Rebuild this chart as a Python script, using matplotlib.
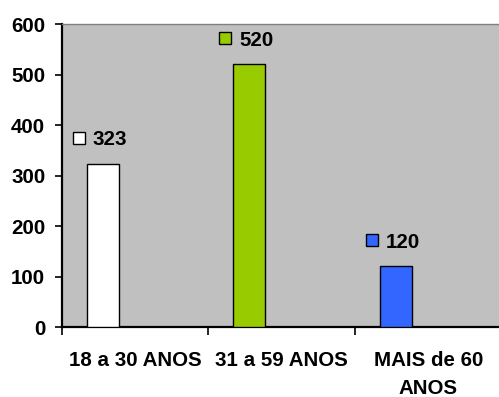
import matplotlib
matplotlib.use("Agg")
import matplotlib.pyplot as plt
from matplotlib.transforms import offset_copy

plt.rcParams['font.family'] = ['Liberation Sans', 'DejaVu Sans']
plt.rcParams['font.weight'] = 'bold'

categories = ["18 a 30 ANOS", "31 a 59 ANOS", "MAIS de 60\nANOS"]
values = [323, 520, 120]
colors = ["#FFFFFF", "#99CC00", "#3366FF"]
yticks = [0, 100, 200, 300, 400, 500, 600]

FS = 14.8

fig = plt.figure(figsize=(4.99, 3.97), dpi=100)
ax = fig.add_axes([0.1242, 0.1763, 0.8808, 0.7632])
ax.set_facecolor("#C0C0C0")

bar_w = 0.218
shift = -0.222
xs = [i + shift for i in range(len(values))]
ax.bar(xs, values, width=bar_w, color=colors, edgecolor="black", linewidth=1.0, zorder=3)

ax.set_xlim(-0.5, 2.5)
ax.set_ylim(0, 600)
ax.set_yticks(yticks)
ax.set_yticklabels([str(t) for t in yticks], fontsize=FS, fontweight='bold')
ax.tick_params(axis='y', direction='out', length=5, width=1.2, pad=7)

# group boundaries carry the tick marks, group centres carry the labels
ax.set_xticks([-0.5, 0.5, 1.5, 2.5])
ax.set_xticklabels([])
ax.tick_params(axis='x', which='major', direction='out', length=6, width=1.2)
ax.set_xticks(range(len(categories)), minor=True)
ax.set_xticklabels(categories, minor=True, fontsize=FS, fontweight='bold',
                   linespacing=1.65)
ax.tick_params(axis='x', which='minor', length=0, pad=17)

for s in ("left", "bottom"):
    ax.spines[s].set_color("black")
    ax.spines[s].set_linewidth(1.6)
ax.spines["top"].set_color("#808080")
ax.spines["top"].set_linewidth(1.0)
ax.spines["right"].set_visible(False)

# value labels with a colour key square
for x, v, c in zip(xs, values, colors):
    sq_tr = offset_copy(ax.transData, fig=fig, x=-24, y=26, units='dots')
    ax.plot([x], [v], marker='s', markersize=8.5, markerfacecolor=c,
            markeredgecolor='black', markeredgewidth=1.0, transform=sq_tr,
            zorder=4, clip_on=False)
    tx_tr = offset_copy(ax.transData, fig=fig, x=-10, y=26, units='dots')
    ax.text(x, v, str(v), transform=tx_tr, ha='left', va='center_baseline',
            fontsize=FS, fontweight='bold', zorder=4)

fig.savefig("out.png", dpi=100)
